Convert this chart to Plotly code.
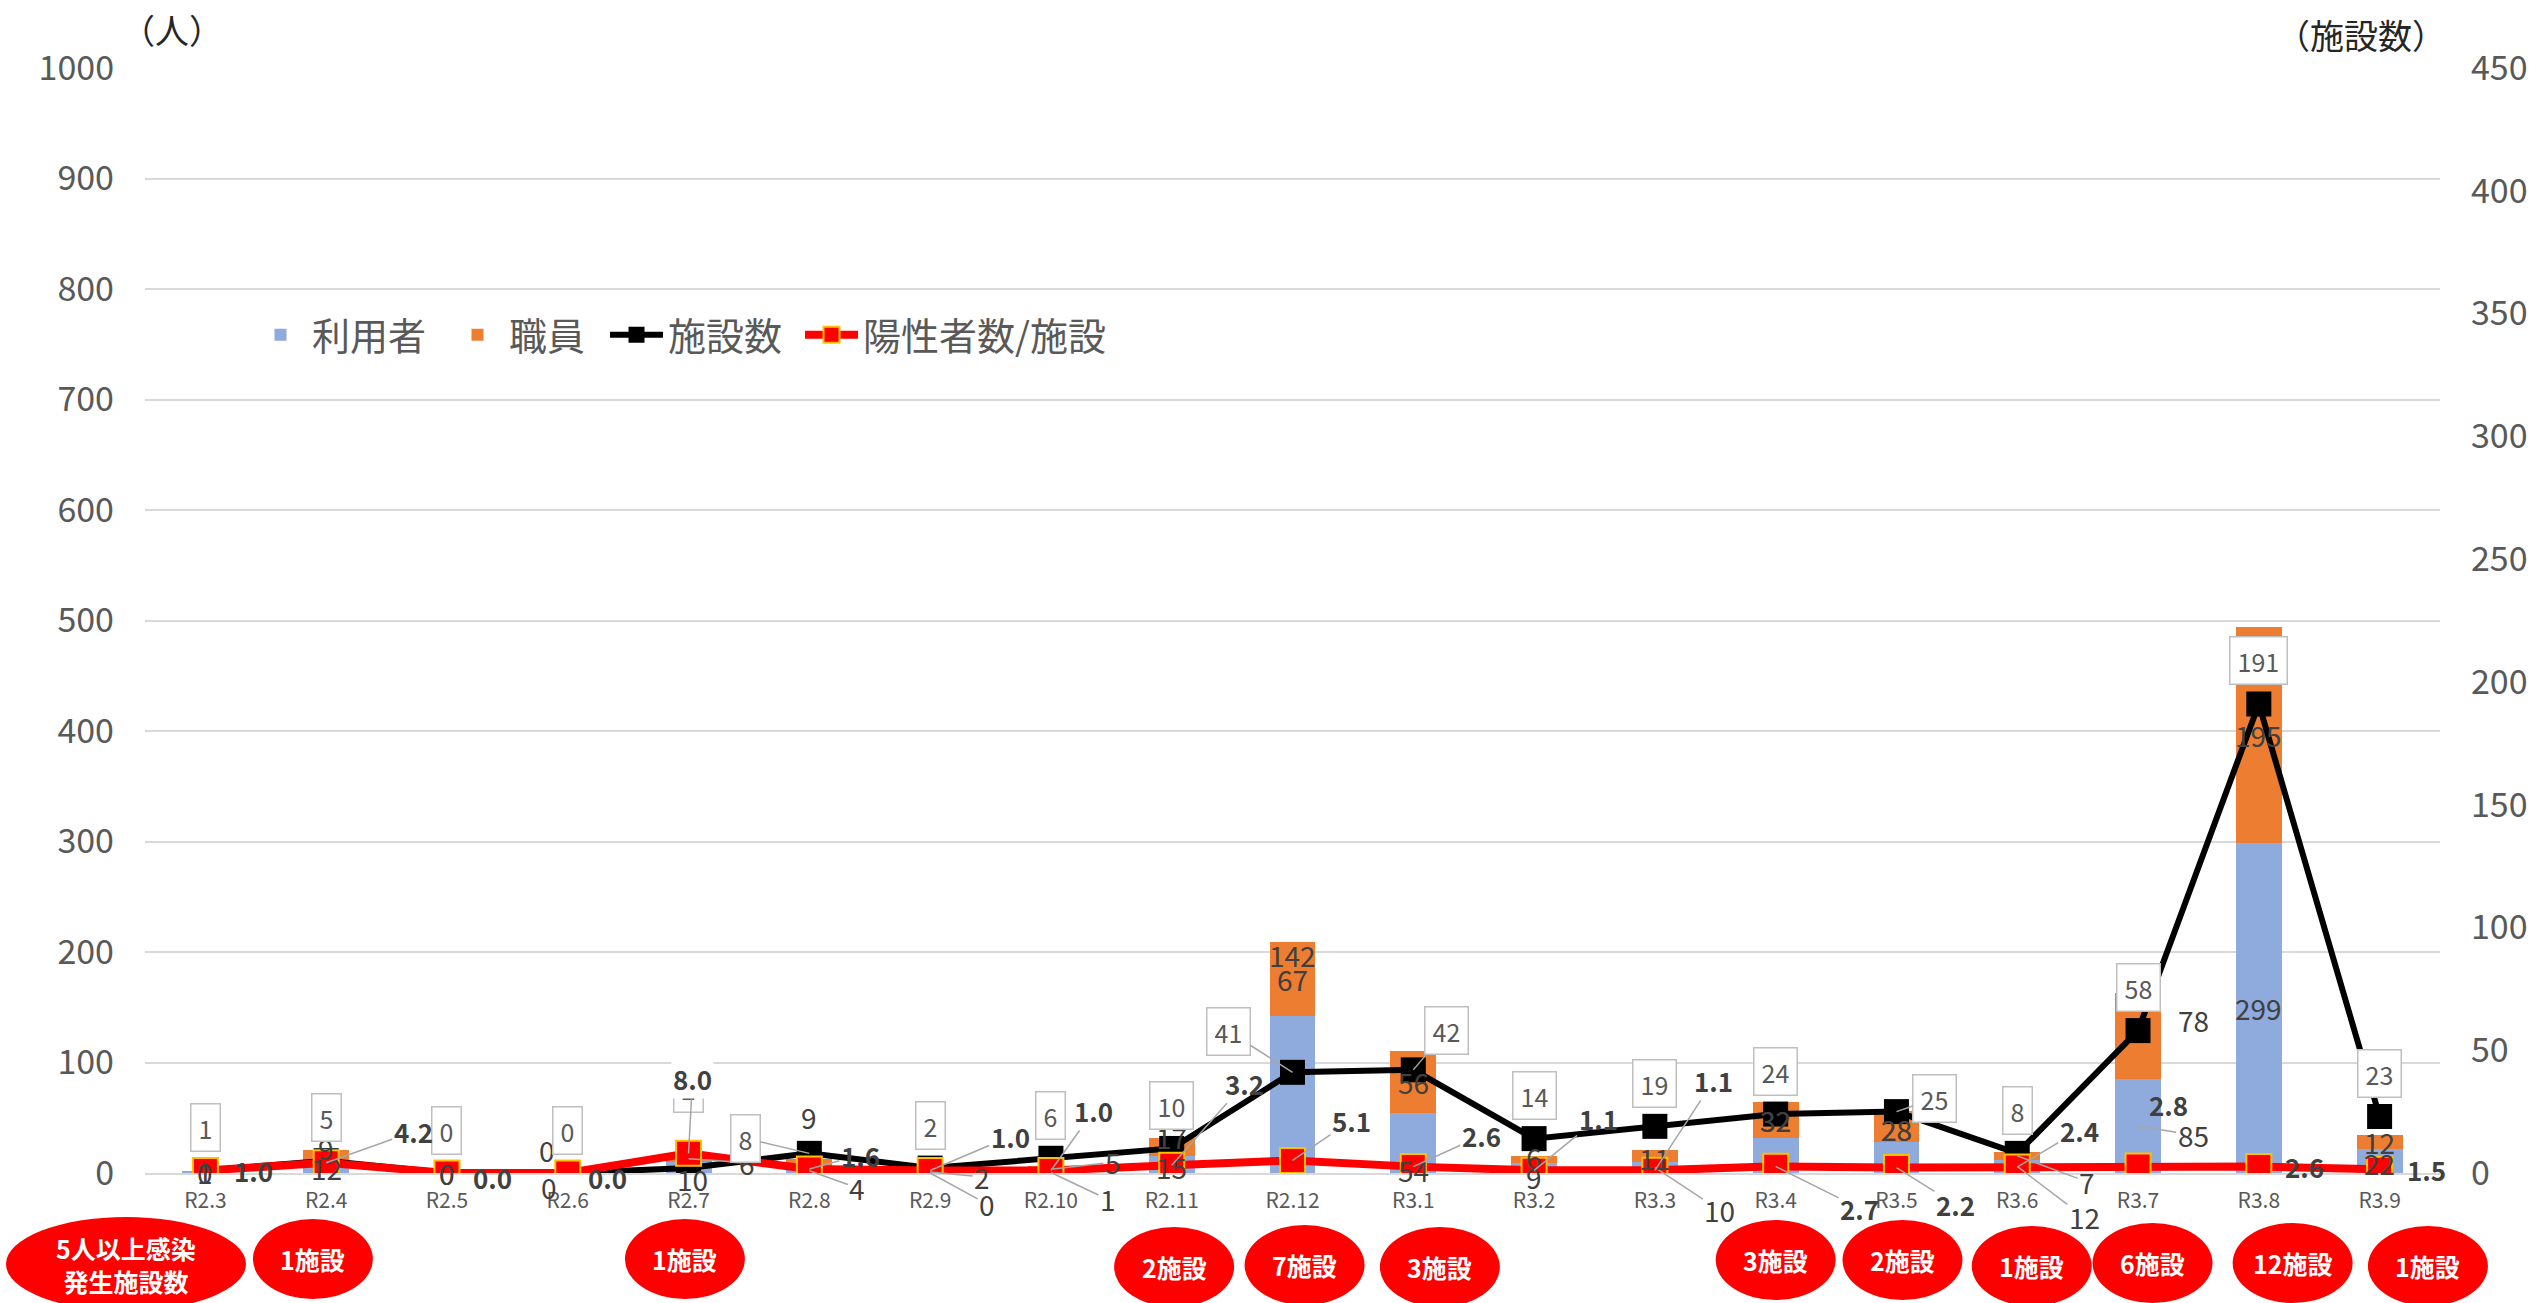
import plotly.graph_objects as go

# ---- data ----
months = ["R2.3", "R2.4", "R2.5", "R2.6", "R2.7", "R2.8", "R2.9", "R2.10", "R2.11", "R2.12",
          "R3.1", "R3.2", "R3.3", "R3.4", "R3.5", "R3.6", "R3.7", "R3.8", "R3.9"]
users = [1, 12, 0, 0, 10, 4, 0, 1, 15, 142, 54, 9, 10, 32, 28, 12, 85, 299, 22]      # 利用者
staff = [0, 9, 0, 0, 6, 9, 2, 5, 17, 67, 56, 6, 11, 32, 28, 7, 78, 195, 12]          # 職員
facilities = [1, 5, 0, 0, 2, 8, 2, 6, 10, 41, 42, 14, 19, 24, 25, 8, 58, 191, 23]    # 施設数
per_facility = [1.0, 4.2, 0.0, 0.0, 8.0, 1.6, 1.0, 1.0, 3.2, 5.1, 2.6, 1.1, 1.1, 2.7,
                2.2, 2.4, 2.8, 2.6, 1.5]                                              # 陽性者数/施設
outbreak_months = ["R2.4", "R2.7", "R2.11", "R2.12", "R3.1", "R3.4", "R3.5", "R3.6", "R3.7", "R3.8", "R3.9"]
outbreak_counts = [1, 1, 2, 7, 3, 3, 2, 1, 6, 12, 1]                                  # 5人以上感染発生施設数

# ---- styling ----
FONT = "Noto Sans CJK JP"
GRAY = "#595959"
DARK = "#404040"
LEADER = "#A6A6A6"
N = len(months)

# plot area in pixels (for placing the bubbles below the axis)
W, H = 2544, 1303
ML, MR, MT, MB = 145, 104, 68, 130
PW, PH = W - ML - MR, H - MT - MB


def px_to_paper_y(py):
    return (H - MB - py) / PH


def px_to_paper_x(px):
    return (px - ML) / PW


# label placement (pixel offsets dx, dy, leader line)
fac_offsets = {i: (0, -43, False) for i in range(N)}
fac_offsets.update({4: (0, -80, False), 5: (-64, -15, True), 9: (-64, -41, True),
                    10: (33, -39, True), 14: (38, -13, True)})

ratio_offsets = [(48, 0, False), (87, -31, True), (46, 4, False), (40, 4, False), (4, -75, True),
                 (51, -14, True), (80, -34, True), (43, -60, True), (73, -82, True), (59, -40, True),
                 (68, -31, True), (64, -52, True), (59, -90, True), (84, 42, True), (59, 37, True),
                 (62, -37, True), (30, -62, False), (46, 0, False), (47, 0, False)]

user_offsets = [(0, 0, False), (0, 2, False), (0, 0, False), (-19, 14, False), (4, 12, False),
                (48, 17, True), (57, 31, True), (57, 27, True), (0, 2, False), (0, -140, False),
                (0, 27, False), (0, 9, False), (65, 43, True), (0, -35, False), (0, -29, False),
                (67, 51, True), (55, 9, True), (0, 0, False), (0, 2, False)]

staff_offsets = [(0, 0, False), (0, -7, False), (0, 0, False), (-21, -23, False), (58, 4, True),
                 (0, -47, False), (52, 5, True), (62, -7, True), (0, -10, False), (0, 0, False),
                 (0, 0, False), (0, -3, False), (0, 2, False), (0, 0, False), (0, 2, False),
                 (70, 26, True), (55, -16, False), (0, 0, False), (0, 0, False)]

bubble_shift = {"R2.4": (-0.11, 1259), "R2.7": (-0.03, 1259), "R2.11": (0.02, 1267),
                "R2.12": (0.10, 1265), "R3.1": (0.22, 1267), "R3.4": (0.0, 1260),
                "R3.5": (0.05, 1260), "R3.6": (0.12, 1266), "R3.7": (0.12, 1263),
                "R3.8": (0.28, 1263), "R3.9": (0.40, 1266)}

# one legend box per series, left edges in pixels
legend_left_px = [249, 446, 605, 800]

fig = go.Figure()

fig.add_bar(x=months, y=users, name="利用者", legend="legend",
            marker=dict(color="#8FAADC", line=dict(width=0)))
fig.add_bar(x=months, y=staff, name="職員", legend="legend2",
            marker=dict(color="#ED7D31", line=dict(width=0)))

fig.add_scatter(x=months, y=facilities, name="施設数", yaxis="y2", mode="lines+markers",
                legend="legend3", line=dict(color="#000000", width=6),
                marker=dict(symbol="square", size=25, color="#000000"))
fig.add_scatter(x=months, y=per_facility, name="陽性者数/施設", yaxis="y2", mode="lines+markers",
                legend="legend4", line=dict(color="#FF0000", width=8),
                marker=dict(symbol="square", size=25, color="#FF0000",
                            line=dict(color="#FFC000", width=2)))

annotations = []


def label(x, y, text, yref, off, font, **extra):
    dx, dy, leader = off
    a = dict(x=x, y=y, xref="x", yref=yref, text=text, font=font)
    if leader:
        a.update(showarrow=True, ax=dx, ay=dy, axref="pixel", ayref="pixel",
                 arrowhead=0, arrowwidth=1.5, arrowcolor=LEADER, standoff=0)
    else:
        a.update(showarrow=False, xshift=dx, yshift=-dy)
    a.update(extra)
    annotations.append(a)


bar_font = dict(family=FONT, size=28, color=DARK)
for i, m in enumerate(months):
    label(m, users[i] / 2, str(users[i]), "y", user_offsets[i], bar_font)
    label(m, users[i] + staff[i] / 2, str(staff[i]), "y", staff_offsets[i], bar_font)

box_font = dict(family=FONT, size=25, color=GRAY)
for i, m in enumerate(months):
    label(m, facilities[i], str(facilities[i]), "y2", fac_offsets[i], box_font,
          bordercolor="#BFBFBF", borderwidth=1.5, borderpad=7, bgcolor="#FFFFFF", height=32)

ratio_font = dict(family=FONT, size=26, color=DARK, weight="bold")
for i, m in enumerate(months):
    extra = {"bgcolor": "#FFFFFF"} if i == 4 else {}
    label(m, per_facility[i], f"{per_facility[i]:.1f}", "y2", ratio_offsets[i], ratio_font, **extra)

# axis unit captions
caption_font = dict(family=FONT, size=34, color="#262626")
annotations.append(dict(xref="paper", yref="paper", x=px_to_paper_x(172), y=px_to_paper_y(30),
                        xanchor="center", yanchor="middle", text="（人）", showarrow=False,
                        font=caption_font))
annotations.append(dict(xref="paper", yref="paper", x=px_to_paper_x(2361), y=px_to_paper_y(34),
                        xanchor="center", yanchor="middle", text="（施設数）", showarrow=False,
                        font=caption_font))

# red bubbles: facilities with 5+ infections
shapes = []
bubble_font = dict(family=FONT, size=25, color="#FFFFFF", weight="bold")


def bubble(cx, cy, hw, hh, text):
    shapes.append(dict(type="circle", xref="paper", yref="paper", x0=cx - hw, x1=cx + hw,
                       y0=cy - hh, y1=cy + hh, fillcolor="#FF0000", line=dict(width=0), layer="above"))
    annotations.append(dict(xref="paper", yref="paper", x=cx, y=cy, xanchor="center",
                            yanchor="middle", text=text, showarrow=False, font=bubble_font))


bubble(px_to_paper_x(126), px_to_paper_y(1264), 120 / PW, 47 / PH, "5人以上感染<br>発生施設数")
for m, c in zip(outbreak_months, outbreak_counts):
    shift, cy = bubble_shift[m]
    cx = (months.index(m) + 0.5 + shift) / N
    bubble(cx, px_to_paper_y(cy), 60 / PW, 40 / PH, f"{c}施設")

legend_style = dict(orientation="h", y=px_to_paper_y(335), xanchor="left", yanchor="middle",
                    font=dict(family=FONT, size=38, color=GRAY), bgcolor="rgba(0,0,0,0)",
                    itemwidth=53)
legends = {}
for k, left in enumerate(legend_left_px):
    key = "legend" if k == 0 else f"legend{k + 1}"
    legends[key] = dict(legend_style, x=px_to_paper_x(left))

fig.update_layout(
    width=W, height=H,
    margin=dict(l=ML, r=MR, t=MT, b=MB),
    paper_bgcolor="#FFFFFF", plot_bgcolor="#FFFFFF",
    barmode="stack", bargap=0.62,
    font=dict(family=FONT, color=GRAY),
    showlegend=True,
    xaxis=dict(type="category", range=[-0.5, N - 0.5], tickfont=dict(family=FONT, size=21, color=GRAY),
               showline=True, linecolor="#D9D9D9", linewidth=2, ticks="", showgrid=False,
               ticklabelstandoff=8),
    yaxis=dict(range=[0, 1000], dtick=100, tickfont=dict(family=FONT, size=34, color=GRAY),
               gridcolor="#D9D9D9", gridwidth=2, zeroline=False, showline=False, ticks="",
               ticklabelstandoff=30),
    yaxis2=dict(range=[0, 450], dtick=50, overlaying="y", side="right", showgrid=False,
                tickfont=dict(family=FONT, size=34, color=GRAY), zeroline=False, showline=False,
                ticks="", ticklabelstandoff=30),
    annotations=annotations,
    shapes=shapes,
    **legends,
)

fig.write_html("out.html")
